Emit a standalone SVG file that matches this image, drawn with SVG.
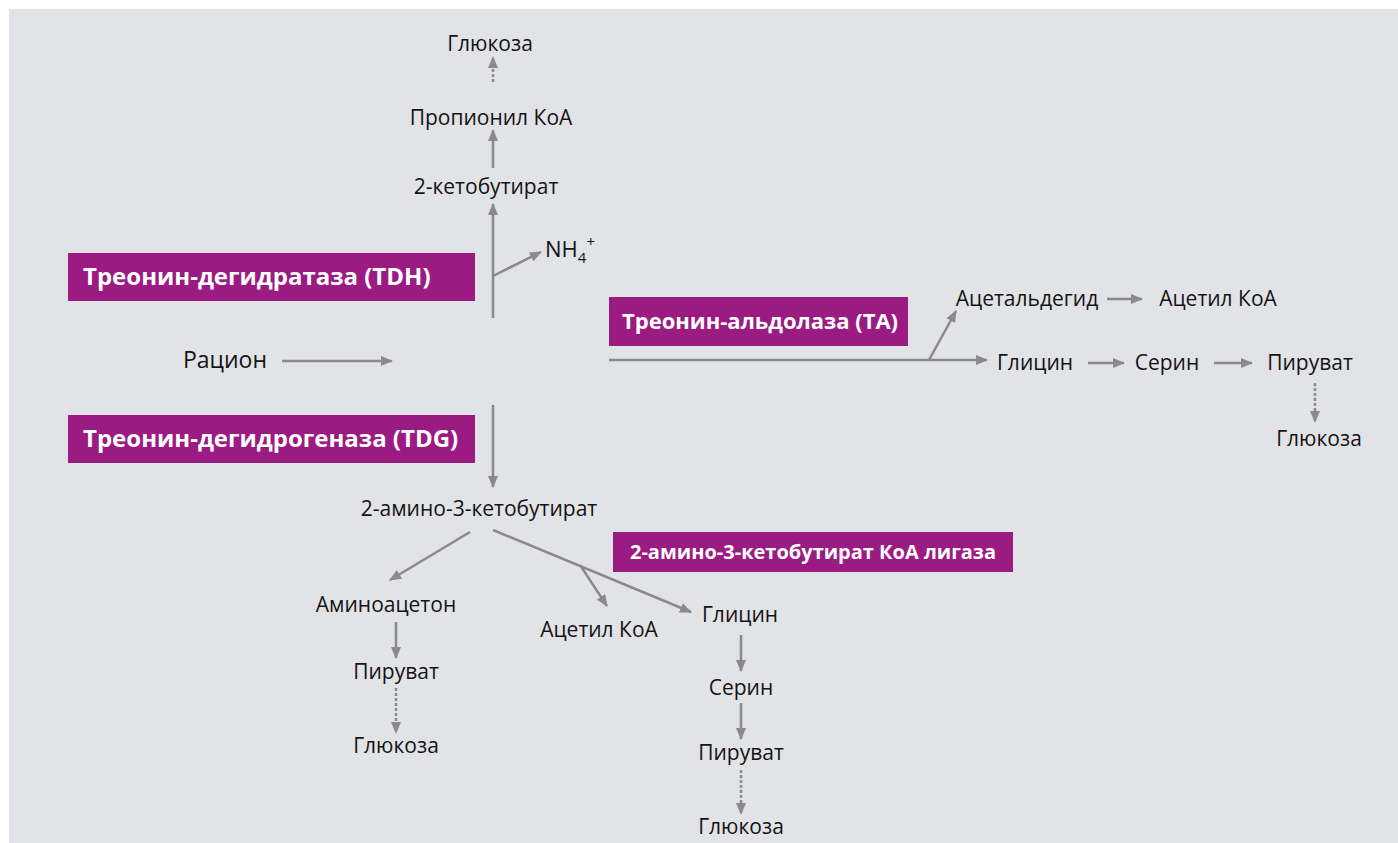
<svg xmlns="http://www.w3.org/2000/svg" width="1398" height="843" viewBox="0 0 1398 843">
<defs>
<marker id="ah" markerWidth="12" markerHeight="10" refX="11" refY="5" orient="auto" markerUnits="userSpaceOnUse">
<path d="M0,0 L12,5 L0,10 Z" fill="#8a8a8d"/>
</marker>
<style>
.t{font-family:"Open Sans","Liberation Sans",sans-serif;font-size:21px;fill:#141414;text-anchor:middle}
.b{font-family:"Open Sans","Liberation Sans",sans-serif;font-size:24px;font-weight:bold;fill:#ffffff;text-anchor:start}
.box{fill:#9b1b82}
.c{stroke:#8a8a8d;stroke-width:2.5;fill:none}
.a{marker-end:url(#ah)}
.d{stroke-dasharray:3 2}
</style>
</defs>
<rect width="1398" height="843" fill="#ffffff"/>
<rect x="9" y="9" width="1389" height="834" fill="#e2e3e7"/>

<g id="connectors">
<line class="c a d" x1="493" y1="82" x2="493" y2="57"/>
<line class="c a" x1="493" y1="168" x2="493" y2="130"/>
<line class="c a" x1="493" y1="318" x2="493" y2="204"/>
<line class="c a" x1="493" y1="276" x2="541" y2="252"/>
<line class="c a" x1="282" y1="361" x2="392" y2="361"/>
<line class="c a" x1="493" y1="405" x2="493" y2="487"/>
<line class="c a" x1="609" y1="360" x2="987" y2="360"/>
<line class="c a" x1="929" y1="360" x2="956" y2="311"/>
<line class="c a" x1="1107" y1="299" x2="1142" y2="299"/>
<line class="c a" x1="1088" y1="363" x2="1124" y2="363"/>
<line class="c a" x1="1214" y1="363" x2="1252" y2="363"/>
<line class="c a d" x1="1315" y1="383" x2="1315" y2="422"/>
<line class="c a" x1="470" y1="532" x2="390" y2="580"/>
<line class="c a" x1="493" y1="530" x2="691" y2="612"/>
<line class="c a" x1="580" y1="565" x2="607" y2="606"/>
<line class="c a" x1="396" y1="622" x2="396" y2="658"/>
<line class="c a d" x1="396" y1="688" x2="396" y2="733"/>
<line class="c a" x1="741" y1="635" x2="741" y2="671"/>
<line class="c a" x1="741" y1="703" x2="741" y2="739"/>
<line class="c a d" x1="741" y1="770" x2="741" y2="814"/>
</g>

<g id="n-glucose-top"><text class="t" x="490" y="51">Глюкоза</text></g>
<g id="n-propionyl"><text class="t" x="491" y="125">Пропионил КоА</text></g>
<g id="n-ketobutyrate"><text class="t" x="486" y="194">2-кетобутират</text></g>
<g id="n-nh4"><text class="t" x="545" y="257" style="text-anchor:start;font-size:22px">NH<tspan font-size="15" dy="6">4</tspan><tspan font-size="15" dy="-16">+</tspan></text></g>
<g id="n-tdh"><rect class="box" x="68" y="253" width="407" height="48"/><text class="b" x="83" y="285">Треонин-дегидратаза (TDH)</text></g>
<g id="n-ration"><text class="t" x="225" y="368" style="font-size:23px">Рацион</text></g>
<g id="n-tdg"><rect class="box" x="68" y="415" width="407" height="48"/><text class="b" x="83" y="447">Треонин-дегидрогеназа (TDG)</text></g>
<g id="n-ta"><rect class="box" x="609" y="297" width="299" height="49"/><text class="b" x="622" y="329" style="font-size:22px">Треонин-альдолаза (TA)</text></g>
<g id="n-acetaldehyde"><text class="t" x="1027" y="306">Ацетальдегид</text></g>
<g id="n-acetylcoa-r"><text class="t" x="1218" y="306">Ацетил КоА</text></g>
<g id="n-glycine-r"><text class="t" x="1035" y="370">Глицин</text></g>
<g id="n-serine-r"><text class="t" x="1167" y="370">Серин</text></g>
<g id="n-pyruvate-r"><text class="t" x="1310" y="370">Пируват</text></g>
<g id="n-glucose-r"><text class="t" x="1319" y="446">Глюкоза</text></g>
<g id="n-amino-keto"><text class="t" x="479" y="516">2-амино-3-кетобутират</text></g>
<g id="n-ligase"><rect class="box" x="613" y="532" width="400" height="40"/><text class="b" x="630" y="559" style="font-size:20px">2-амино-3-кетобутират КоА лигаза</text></g>
<g id="n-aminoacetone"><text class="t" x="386" y="612">Аминоацетон</text></g>
<g id="n-acetylcoa-b"><text class="t" x="599" y="637">Ацетил КоА</text></g>
<g id="n-glycine-b"><text class="t" x="740" y="622">Глицин</text></g>
<g id="n-pyruvate-l"><text class="t" x="396" y="679">Пируват</text></g>
<g id="n-glucose-l"><text class="t" x="396" y="753">Глюкоза</text></g>
<g id="n-serine-b"><text class="t" x="741" y="695">Серин</text></g>
<g id="n-pyruvate-b"><text class="t" x="741" y="760">Пируват</text></g>
<g id="n-glucose-b"><text class="t" x="741" y="834">Глюкоза</text></g>
</svg>
